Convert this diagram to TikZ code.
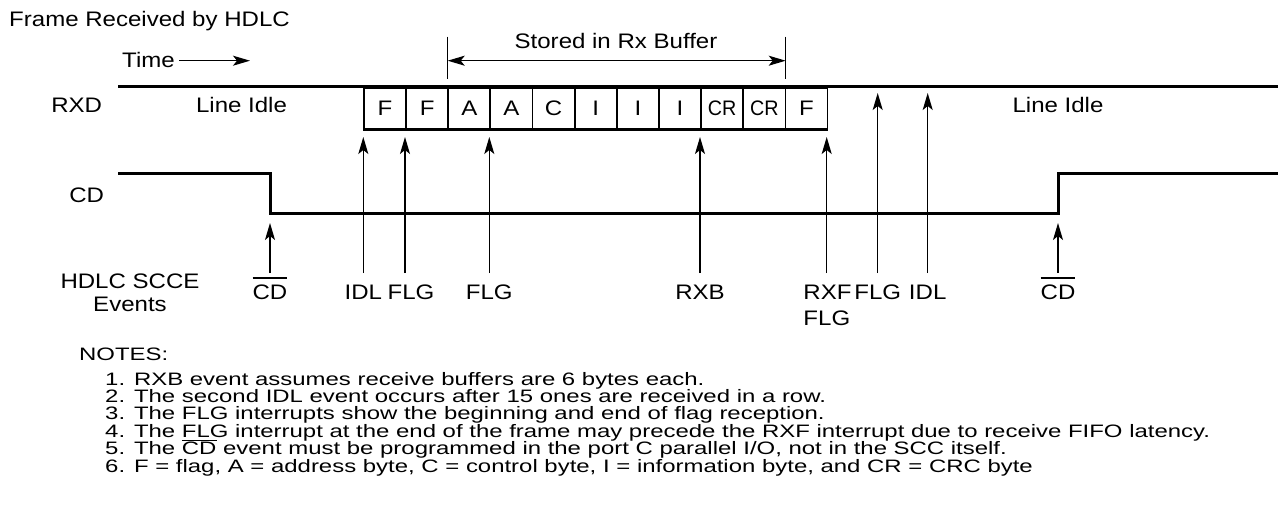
\documentclass[tikz,border=0pt]{standalone}
\usepackage{fontspec}
\setmainfont{Liberation Sans}[FakeStretch=1.145]
\newfontfamily\notefont{Liberation Sans}[FakeStretch=1.33]
\usetikzlibrary{arrows.meta}
\newcommand\obar[3]{\leavevmode\setbox0\hbox{#3}\rlap{\rule[#1]{\wd0}{#2}}\box0\relax}
\begin{document}
\begin{tikzpicture}[x=1pt,y=-1pt,
  lbl/.style={font=\fontsize{21}{24}\selectfont, inner sep=0pt, anchor=base},
  notetxt/.style={font=\notefont\fontsize{18}{20}\selectfont, inner sep=0pt, anchor=base west},
  sig/.style={line width=3pt},
  bytebox/.style={draw, line width=1.8pt, minimum width=42.15pt, minimum height=41pt, inner sep=0pt, font=\fontsize{21}{24}\selectfont, anchor=north west},
  evt/.style={line width=1.3pt, -{Stealth[length=17pt,width=10pt,inset=4pt]}},
  tick/.style={line width=1pt},
  ]
\useasboundingbox (0,0) rectangle (1278,519);

% titles
\node[lbl, anchor=base west] (title) at (9,27) {Frame Received by HDLC};
\node[lbl, anchor=base west] (time) at (122,67) {Time};
\coordinate (timeA) at (179,60.7);
\coordinate (timeB) at (250,60.7);
\draw[evt] (timeA) -- (timeB);

% stored in rx buffer
\node[lbl] (stored) at (616,48.3) {Stored in Rx Buffer};
\coordinate (stLt) at (447.7,36.7); \coordinate (stLb) at (447.7,79.3);
\coordinate (stRt) at (785.7,36.7); \coordinate (stRb) at (785.7,79.3);
\draw[tick] (stLt) -- (stLb);
\draw[tick] (stRt) -- (stRb);
\coordinate (stA) at (447.7,60.7);
\coordinate (stB) at (785.7,60.7);
\draw[line width=1.3pt, {Stealth[length=17pt,width=10pt,inset=4pt]}-{Stealth[length=17pt,width=10pt,inset=4pt]}] (stA) -- (stB);

% RXD row
\node[lbl] (rxd) at (76.7,113) {RXD};
\node[lbl] (idle1) at (241.5,113) {Line Idle};
\node[lbl] (idle2) at (1058,113) {Line Idle};
\foreach \i/\t in {1/F,2/F,3/A,4/A,5/C,6/I,7/I,8/I,9/\scalebox{0.82}[1]{CR},10/\scalebox{0.82}[1]{CR},11/F}{
  \node[bytebox] (b\i) at ({363+42.15*(\i-1)},87) {\t};
}
\coordinate (rxdL) at (118,87);
\coordinate (rxdR) at (1278,87);
\draw[sig] (rxdL) -- (rxdR);
\draw[line width=2.6pt] (b1.south west) -- (b11.south east);

% CD row
\node[lbl] (cd) at (86.7,202.7) {CD};
\coordinate (cd1) at (118,173);
\coordinate (cd2) at (270,173);
\coordinate (cd3) at (270,213);
\coordinate (cd4) at (1058,213);
\coordinate (cd5) at (1058,173);
\coordinate (cd6) at (1278,173);
\draw[sig] (cd1) -- (cd2) -- (cd3) -- (cd4) -- (cd5) -- (cd6);

% events labels
\node[lbl] (hd1) at (130,288) {HDLC SCCE};
\node[lbl] (hd2) at (130,311.5) {Events};
\node[lbl] (e1) at (270,299) {\obar{20.1pt}{1.8pt}{CD}};
\node[lbl] (e2) at (363.3,299) {IDL};
\node[lbl] (e3) at (411,299) {FLG};
\node[lbl] (e4) at (489.3,299) {FLG};
\node[lbl] (e5) at (700,299) {RXB};
\node[lbl] (e6) at (827.5,299) {RXF};
\node[lbl, anchor=base west] (e6b) at ([yshift=-26pt]e6.base west) {FLG};
\node[lbl] (e7) at (877.7,299) {FLG};
\node[lbl] (e8) at (927.7,299) {IDL};
\node[lbl] (e9) at (1058,299) {\obar{20.1pt}{1.8pt}{CD}};

% event arrows
\foreach \n/\x/\yt/\yh in {1/270/273/223, 2/363.3/273/137, 3/405/273/137, 4/489.3/273/137, 5/700/273/137, 6/826.7/273/137, 7/877.7/273/93, 8/927.7/273/93, 9/1058/273/223}{
  \coordinate (ta\n) at (\x,\yt);
  \coordinate (ha\n) at (\x,\yh);
  \draw[evt] (ta\n) -- (ha\n);
}

% notes
\node[notetxt] (notes) at (79,360) {NOTES:};
\node[notetxt] (n1) at (105,385) {1. RXB event assumes receive buffers are 6 bytes each.};
\node[notetxt] (n2) at (105,402.4) {2. The second IDL event occurs after 15 ones are received in a row.};
\node[notetxt] (n3) at (105,419.8) {3. The FLG interrupts show the beginning and end of flag reception.};
\node[notetxt] (n4) at (105,437.2) {4. The FLG interrupt at the end of the frame may precede the RXF interrupt due to receive FIFO latency.};
\node[notetxt] (n5) at (105,454.6) {5. The \obar{13.8pt}{1.3pt}{CD} event must be programmed in the port C parallel I/O, not in the SCC itself.};
\node[notetxt] (n6) at (105,472) {6. F = flag, A = address byte, C = control byte, I = information byte, and CR = CRC byte};
\end{tikzpicture}
\end{document}
